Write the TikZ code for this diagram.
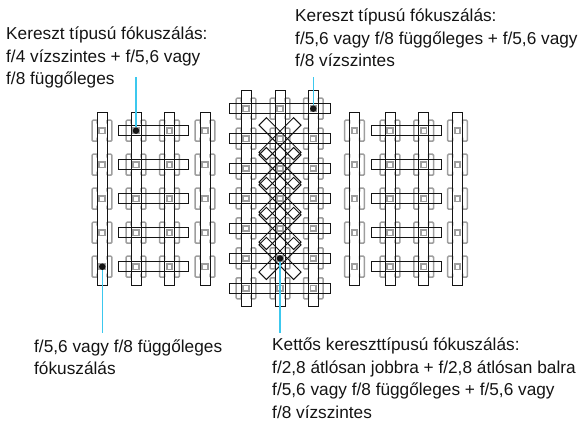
\documentclass[tikz,border=0pt]{standalone}
\usepackage{fontspec}
\setmainfont{Liberation Sans}
\usetikzlibrary{positioning}
\definecolor{leader}{HTML}{3CC8EE}
\definecolor{afgrey}{HTML}{9E9E9E}
\definecolor{afblack}{HTML}{141414}

\begin{document}
\begin{tikzpicture}[x=1pt, y=-1pt,
      hbar/.style={draw=afblack, line width=1pt, inner sep=0pt, minimum height=10.5pt},
      vbar/.style={draw=afblack, line width=1pt, inner sep=0pt, minimum width=10pt},
      xbar/.style={draw=afblack, line width=1pt, inner sep=0pt, minimum width=49pt, minimum height=10.5pt},
      afdot/.style={circle, fill=afblack, inner sep=0pt, minimum size=6.5pt},
      lead/.style={leader, line width=1.2pt},
      note/.style={inner sep=0pt, anchor=north west, align=left, text=afblack,
        font=\fontsize{17.25}{22.5}\selectfont},
      afsq/.style={draw=afgrey, line width=1.8pt, inner sep=0pt, minimum size=5.5pt},
      afpt/.pic={
        \draw[afgrey, line width=1.5pt, rounded corners=1pt]
          (-5,-10.5) -- (-9.8,-10.5) -- (-9.8,10.5) -- (-5,10.5)
          (5,-10.5) -- (9.8,-10.5) -- (9.8,10.5) -- (5,10.5)
          (-5,-10.5) -- (-5,-7) (5,-10.5) -- (5,-7) (-5,10.5) -- (-5,7) (5,10.5) -- (5,7);
        \node[afsq] (-sq) at (0,0) {};
      }]
    \useasboundingbox (0,0) rectangle (580,420);
    % grey points, outer groups then the middle one
    \foreach \cx in {102,136,169.5,205,354.5,390,423.7,457.5}
      \foreach \cy in {130.7,164.7,198.7,232.7,266.7}
        \pic at (\cx,\cy) {afpt};
    \foreach \cx in {246,280,313.3}
      \foreach \cy in {108.7,138.7,168.5,198.4,228.4,258.4,288.3}
        \pic at (\cx,\cy) {afpt};
    % vertical bars
    \foreach \cx [count=\i] in {102,136,169.5,205,354.5,390,423.7,457.5}
      \node[vbar, minimum height=173pt] (vo\i) at (\cx,198.7) {};
    \foreach \cx [count=\i] in {246,280,313.3}
      \node[vbar, minimum height=216pt] (vm\i) at (\cx,198.3) {};
    % horizontal bars
    \foreach \cy [count=\i] in {130.7,164.7,198.7,232.7,266.7} {
      \node[hbar, minimum width=70pt] (hl\i) at (153.3,\cy) {};
      \node[hbar, minimum width=70pt] (hr\i) at (406.2,\cy) {};
    }
    \foreach \cy [count=\i] in {108.7,138.7,168.5,198.4,228.4,258.4,288.3}
      \node[hbar, minimum width=101.4pt] (hm\i) at (280,\cy) {};
    % diagonal bars
    \foreach \cy [count=\i] in {138.7,168.5,198.4,228.4,258.4} {
      \node[xbar, rotate=45] (xa\i) at (280,\cy) {};
      \node[xbar, rotate=-45] (xb\i) at (280,\cy) {};
    }
    % labels
    \node[note] (crossl) at (6,27) {Kereszt típusú fókuszálás:\\f/4 vízszintes + f/5,6 vagy\\f/8 függőleges};
    \node[note] (crossr) at (295,9) {Kereszt típusú fókuszálás:\\f/5,6 vagy f/8 függőleges + f/5,6 vagy\\f/8 vízszintes};
    \node[note] (single) at (34,339.5) {f/5,6 vagy f/8 függőleges\\fókuszálás};
    \node[note] (double) at (272,338) {Kettős kereszttípusú fókuszálás:\\f/2,8 átlósan jobbra + f/2,8 átlósan balra\\f/5,6 vagy f/8 függőleges + f/5,6 vagy\\f/8 vízszintes};
    % leaders
    \node[afdot] (dotl) at (136,130.7) {};
    \node[afdot] (dotr) at (313.3,108.7) {};
    \node[afdot] (dots) at (102.3,266.7) {};
    \node[afdot] (dotd) at (280,258.4) {};
    \coordinate (endl) at (136,76.7);
    \coordinate (endr) at (313.3,76.7);
    \coordinate (ends) at (102.3,333);
    \coordinate (endd) at (280,333);
    \draw[lead] (dotl) -- (endl);
    \draw[lead] (dotr) -- (endr);
    \draw[lead] (dots) -- (ends);
    \draw[lead] (dotd) -- (endd);
  \end{tikzpicture}
\end{document}
